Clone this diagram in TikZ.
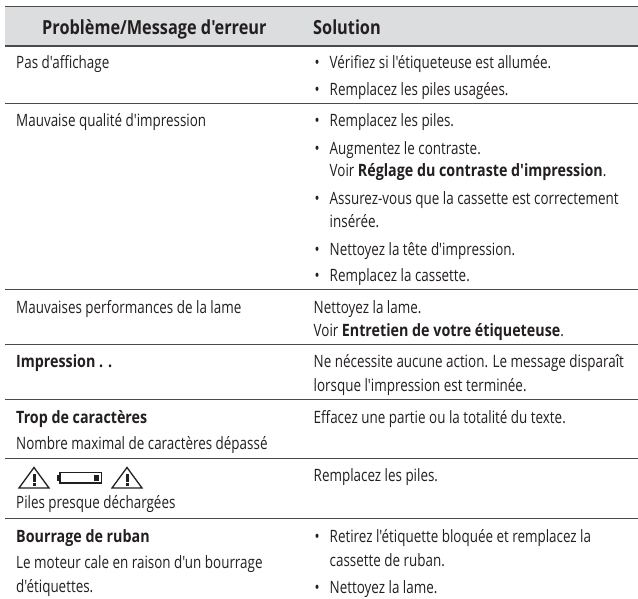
\documentclass[tikz,border=0pt]{standalone}
\usepackage{fontspec}
\newfontfamily\condfont[FakeStretch=0.79,BoldFeatures={FakeStretch=0.84}]{Open Sans}
\definecolor{headgray}{RGB}{220,221,222}
\definecolor{rulegray}{RGB}{75,75,75}
\definecolor{inkgray}{RGB}{35,31,32}
\tikzset{
  x=1pt,y=-1pt,
  txt/.style={anchor=base west,inner sep=0pt,font=\fontsize{17}{20}\condfont,text=inkgray},
  head/.style={anchor=base west,inner sep=0pt,font=\fontsize{19.4}{22}\condfont\bfseries,text=inkgray},
  sep/.style={draw=rulegray,line width=1pt},
  thick sep/.style={draw=rulegray,line width=1.5pt},
  warn/.style={draw=inkgray,line width=1.3pt,line join=miter},
}
\newcommand{\bul}[2]{\node[txt] (b#1) at (314.5,#2) {•}; \node[txt] (t#1) at (329.5,#2)}
\newcommand{\warntri}[1]{%
  \begin{scope}[shift={(#1,0)}]
    \draw[warn] (0,488) -- (15,467.5) -- (30,488) -- cycle;
    \fill[inkgray] (13.5,473.5) rectangle (16.5,481.5);
    \fill[inkgray] (13.5,483) rectangle (16.5,485.5);
  \end{scope}}
\begin{document}
\begin{tikzpicture}
\useasboundingbox (0,0) rectangle (638,599);
\fill[headgray] (5,6.5) rectangle (638,46);
\draw[thick sep] (5,6.7) -- (638,6.7);
\draw[thick sep] (5,46) -- (638,46);
\foreach \y in {103.5,289,344,399.5,458,518}{\draw[sep] (5,\y) -- (638,\y);}
\node[head] (h1) at (42,35) {Problème/Message d'erreur};
\node[head] (h2) at (313,35) {Solution};
\node[txt] (a) at (16,69) {Pas d'affichage};
\node[txt] (b) at (16,127) {Mauvaise qualité d'impression};
\node[txt] (c) at (16,313) {Mauvaises performances de la lame};
\node[txt] (d) at (16,367) {\textbf{Impression . .}};
\node[txt] (e) at (16,423) {\textbf{Trop de caractères}};
\node[txt] (e2) at (16,449) {Nombre maximal de caractères dépassé};
\warntri{19}
\draw[warn] (60,472.5) rectangle (101.5,483);
\fill[inkgray] (57,475) rectangle (60,480.5);
\fill[inkgray] (94,474.5) rectangle (99,481);
\warntri{112}
\node[txt] (f) at (16,508) {Piles presque déchargées};
\node[txt] (g) at (16,542) {\textbf{Bourrage de ruban}};
\node[txt] (g2) at (16,568) {Le moteur cale en raison d'un bourrage};
\node[txt] (g3) at (16,592) {d'étiquettes.};
\bul{1}{69} {Vérifiez si l'étiqueteuse est allumée.};
\bul{2}{96} {Remplacez les piles usagées.};
\bul{3}{127} {Remplacez les piles.};
\bul{4}{155} {Augmentez le contraste.};
\node[txt] (t4b) at (329.5,177) {Voir \textbf{Réglage du contraste d'impression}.};
\bul{5}{205} {Assurez-vous que la cassette est correctement};
\node[txt] (t5b) at (329.5,228) {insérée.};
\bul{6}{256} {Nettoyez la tête d'impression.};
\bul{7}{282} {Remplacez la cassette.};
\node[txt] (s1) at (313.5,313) {Nettoyez la lame.};
\node[txt] (s2) at (313.5,336) {Voir \textbf{Entretien de votre étiqueteuse}.};
\node[txt] (s3) at (313.5,367) {Ne nécessite aucune action. Le message disparaît};
\node[txt] (s4) at (313.5,391) {lorsque l'impression est terminée.};
\node[txt] (s5) at (313.5,423) {Effacez une partie ou la totalité du texte.};
\node[txt] (s6) at (313.5,481) {Remplacez les piles.};
\bul{8}{542} {Retirez l'étiquette bloquée et remplacez la};
\node[txt] (t8b) at (329.5,566) {cassette de ruban.};
\bul{9}{593} {Nettoyez la lame.};
\end{tikzpicture}
\end{document}
